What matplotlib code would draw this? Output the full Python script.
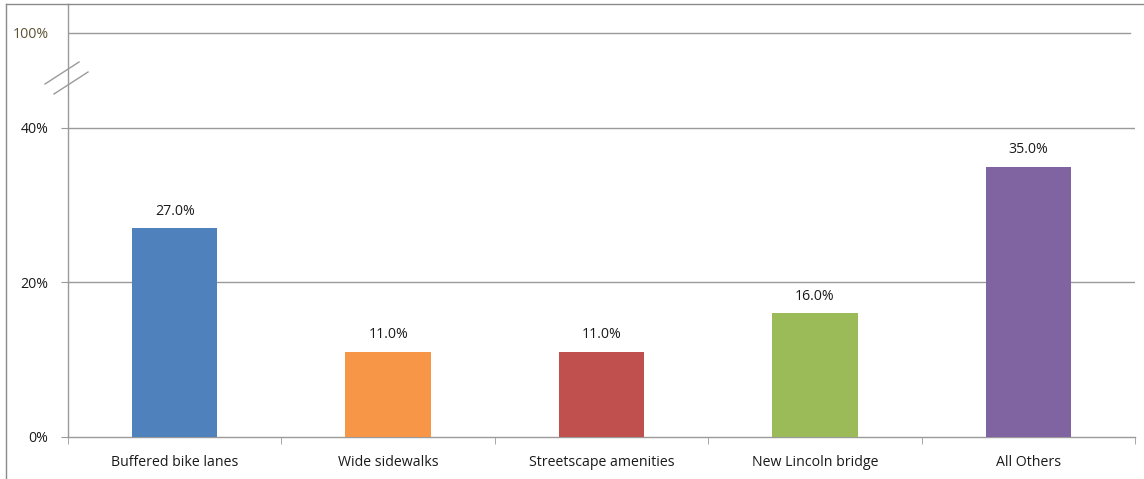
import numpy as np
import matplotlib.pyplot as plt
from matplotlib.lines import Line2D

# ── DATA ──────────────────────────────────────────────────────
categories = ["Buffered bike lanes", "Wide sidewalks", "Streetscape amenities",
              "New Lincoln bridge", "All Others"]
values = [27.0, 11.0, 11.0, 16.0, 35.0]
colors = ["#4F81BD", "#F79646", "#C0504D", "#9BBB59", "#8064A2"]
ytick_vals = [0, 20, 40]
ytick_labels = ["0%", "20%", "40%"]
top_label = "100%"

# axis break: 100% is drawn compressed just above the 40% range
BREAK_POS = 52.3
YMAX = 56.05

plt.rcParams['font.family'] = ['Open Sans', 'DejaVu Sans']
FS = 10.2

fig = plt.figure(figsize=(11.44, 4.79), dpi=100)
ax = fig.add_axes([68 / 1144, 42 / 479, (1135 - 68) / 1144, (437 - 4) / 479])

x = np.arange(len(categories))
bars = ax.bar(x, values, width=0.40, color=colors, zorder=3)
for b, v in zip(bars, values):
    ax.annotate(f"{v:.1f}%", (b.get_x() + b.get_width() / 2, v),
                xytext=(0, 7), textcoords="offset points",
                ha="center", va="bottom", fontsize=FS, color="#1a1a1a")

ax.set_xlim(-0.5, len(categories) - 0.5)
ax.set_ylim(0, YMAX)

# gridlines
grid_c = "#9a9a9a"
for yv in ytick_vals[1:]:
    ax.axhline(yv, color=grid_c, lw=1, zorder=1)
ax.axhline(BREAK_POS, xmax=0.995, color=grid_c, lw=1, zorder=1)

# y ticks
ax.set_yticks(ytick_vals + [BREAK_POS])
ax.set_yticklabels(ytick_labels + [top_label], fontsize=FS)
ax.tick_params(axis="y", length=5, color=grid_c, pad=9, labelcolor="#1a1a1a")
ax.get_yticklabels()[-1].set_color("#5b5232")
ax.yaxis.get_major_ticks()[-1].tick1line.set_visible(False)

# x ticks: labels centered, tick marks at category boundaries
ax.set_xticks(x)
ax.set_xticklabels(categories, fontsize=FS, color="#1a1a1a")
ax.tick_params(axis="x", which="major", length=0, pad=13)
ax.set_xticks(np.arange(-0.5, len(categories)), minor=True)
ax.tick_params(axis="x", which="minor", length=5, color=grid_c)

for s in ["top", "right"]:
    ax.spines[s].set_visible(False)
for s in ["left", "bottom"]:
    ax.spines[s].set_color(grid_c)
    ax.spines[s].set_linewidth(1)

# break marks on the y axis
def fx(px):
    return px / 1144
def fy(py):
    return 1 - py / 479
for (x0, y0, x1, y1) in [(45, 84, 79, 62), (54, 94, 88, 72)]:
    fig.add_artist(Line2D([fx(x0), fx(x1)], [fy(y0), fy(y1)], color=grid_c, lw=1))

# outer chart frame
fig.add_artist(Line2D([fx(6), 1], [fy(4), fy(4)], color="#8a8a8a", lw=1))
fig.add_artist(Line2D([fx(6), fx(6)], [fy(4), 0], color="#8a8a8a", lw=1))

fig.savefig("out.png", dpi=100)
